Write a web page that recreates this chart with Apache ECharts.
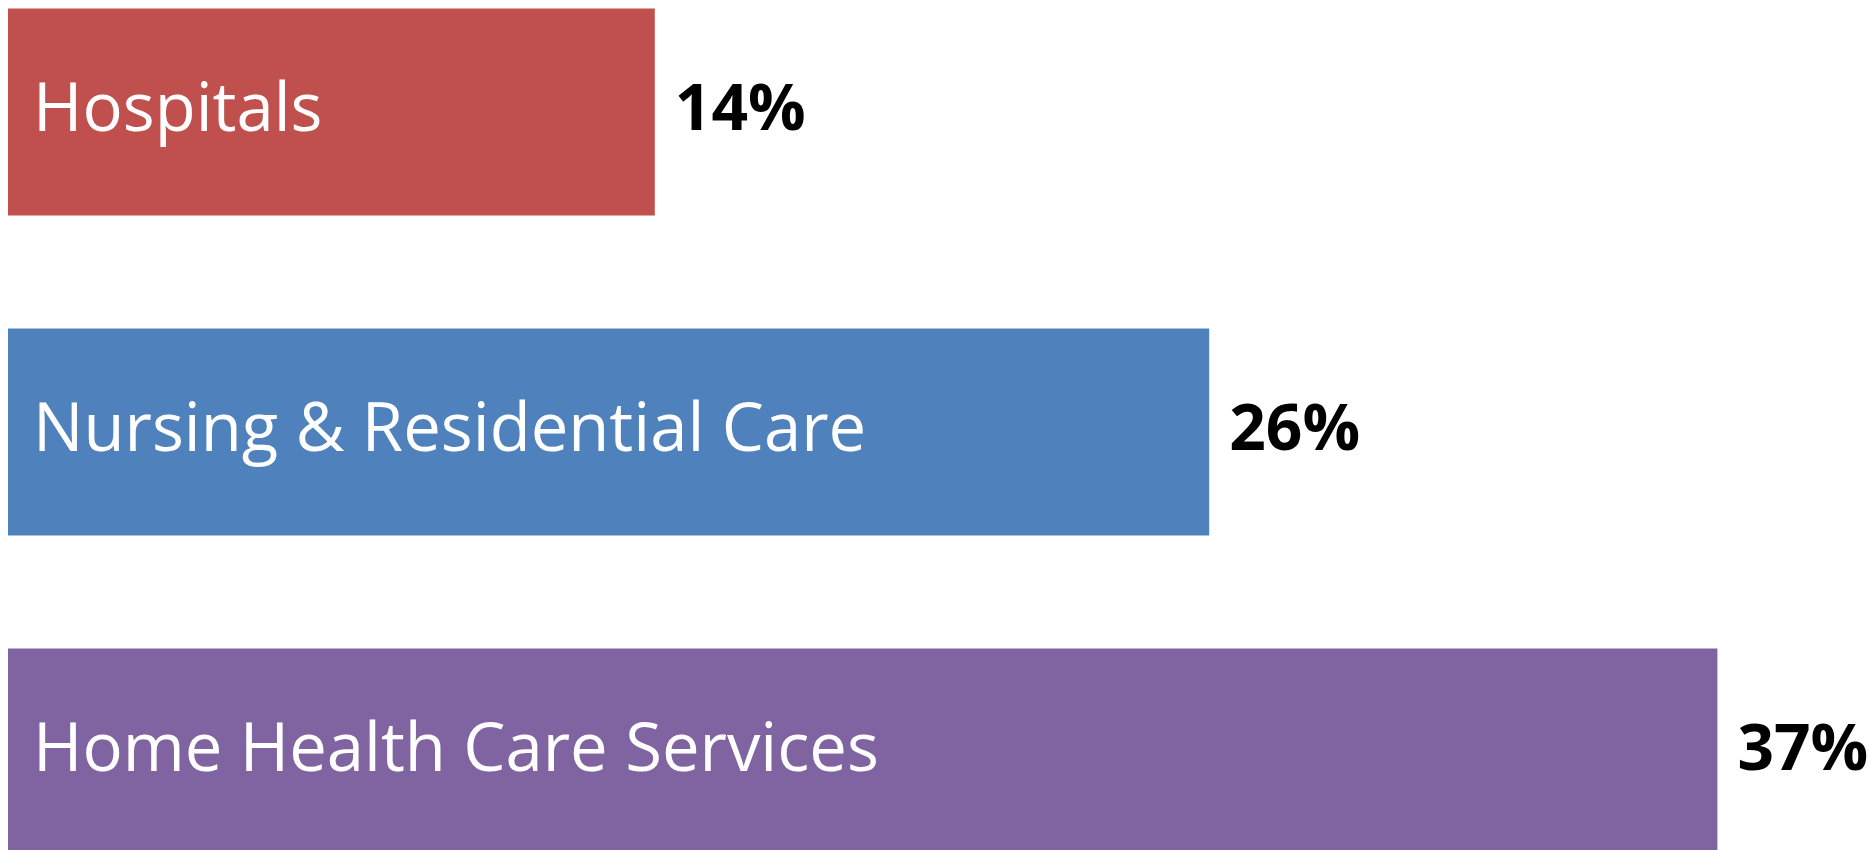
<!DOCTYPE html>
<html>
<head>
<meta charset="utf-8">
<script src="https://cdn.jsdelivr.net/npm/echarts@6/dist/echarts.min.js"></script>
<style>
  html, body { margin: 0; padding: 0; background: #ffffff; }
  #chart { width: 1870px; height: 850px; }
</style>
</head>
<body>
<div id="chart"></div>
<script>
// Share of workers by care setting
const categories = ['Hospitals', 'Nursing & Residential Care', 'Home Health Care Services'];
const shares = [14, 26, 37];
const barColors = ['#C0504D', '#4F81BD', '#8064A2'];

const chart = echarts.init(document.getElementById('chart'), null, { renderer: 'canvas' });

chart.setOption({
  backgroundColor: '#ffffff',
  animation: false,
  grid: {
    left: 8, right: 14, top: -48, bottom: -62,
    containLabel: false,
    outerBoundsMode: 'none'
  },
  xAxis: {
    type: 'value', min: 0, max: 40,
    show: false
  },
  yAxis: {
    type: 'category', data: categories, inverse: true,
    show: false
  },
  series: [
    {
      // coloured bars with the category name inside
      type: 'bar',
      barWidth: 207,
      data: shares.map((v, i) => ({ value: v, itemStyle: { color: barColors[i] } })),
      label: {
        show: true,
        position: 'insideLeft',
        distance: 25,
        formatter: '{b}',
        color: '#ffffff',
        fontFamily: 'Open Sans',
        fontSize: 67
      }
    },
    {
      // invisible twin carrying the percentage to the right of each bar
      type: 'bar',
      barWidth: 207,
      barGap: '-100%',
      data: shares,
      itemStyle: { color: 'rgba(0,0,0,0)' },
      label: {
        show: true,
        position: 'right',
        distance: 20,
        formatter: '{c}%',
        color: '#000000',
        fontFamily: 'Open Sans',
        fontWeight: 'bold',
        fontSize: 64
      }
    }
  ]
});
</script>
</body>
</html>
